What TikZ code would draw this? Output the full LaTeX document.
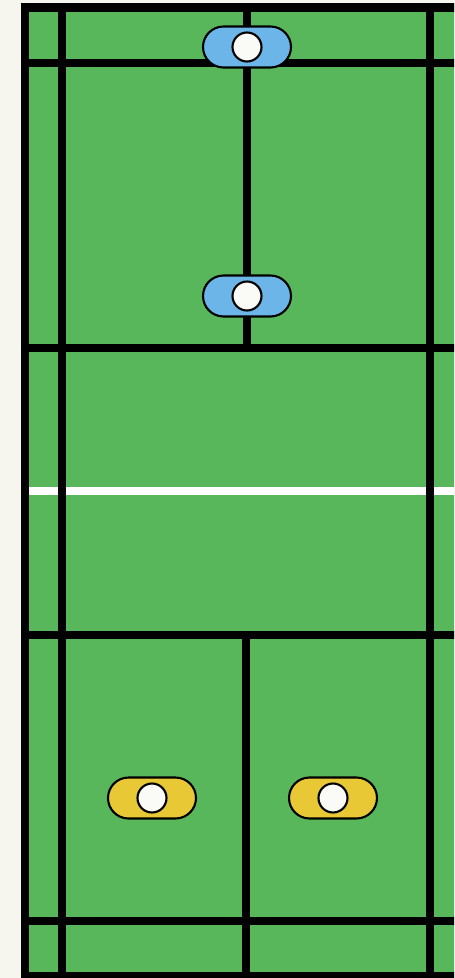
\documentclass[tikz,border=0pt]{standalone}
\usepackage{tikz}

\definecolor{courtgreen}{HTML}{58B65B}
\definecolor{paper}{HTML}{F6F6EF}
\definecolor{pillblue}{HTML}{6CB5E9}
\definecolor{pillyellow}{HTML}{E8C835}
\definecolor{dotwhite}{HTML}{FAFAF6}

\begin{document}
\begin{tikzpicture}[x=0.02cm,y=-0.02cm,
  courtline/.style={line width=0.17cm,black},
  pill/.style={draw=black,line width=1.2pt,rectangle,rounded corners=0.41cm,
    minimum width=1.76cm,minimum height=0.82cm,inner sep=0pt},
  playerdot/.style={draw=black,line width=1.2pt,circle,fill=dotwhite,
    minimum size=0.58cm,inner sep=0pt}]

\useasboundingbox (0,0) rectangle (454,978);
\clip (0,0) rectangle (454,978);

% Draw background and court
\fill[paper] (0,0) rectangle (454,978);
\fill[courtgreen] (21,3) rectangle (480,1000);

% Draw net
\draw[white,line width=0.16cm] (29,491) -- (460,491);

% Draw outer border
\draw[courtline] (25,7.5) rectangle (490,976);

% Draw side lines
\draw[courtline] (62,5) -- (62,980);
\draw[courtline] (430,5) -- (430,980);

% Draw service lines
\draw[courtline] (22,63) -- (460,63);
\draw[courtline] (22,348) -- (460,348);
\draw[courtline] (22,635) -- (460,635);
\draw[courtline] (22,921) -- (460,921);

% Draw centre lines
\draw[courtline] (247,5) -- (247,348);
\draw[courtline] (246,635) -- (246,980);

% Draw players
\node[pill,fill=pillblue] (blueback) at (247,47) {};
\node[playerdot] (bluebackdot) at (blueback.center) {};
\node[pill,fill=pillblue] (bluefront) at (247,296) {};
\node[playerdot] (bluefrontdot) at (bluefront.center) {};
\node[pill,fill=pillyellow] (yellowleft) at (152,798) {};
\node[playerdot] (yellowleftdot) at (yellowleft.center) {};
\node[pill,fill=pillyellow] (yellowright) at (333,798) {};
\node[playerdot] (yellowrightdot) at (yellowright.center) {};

\end{tikzpicture}
\end{document}
